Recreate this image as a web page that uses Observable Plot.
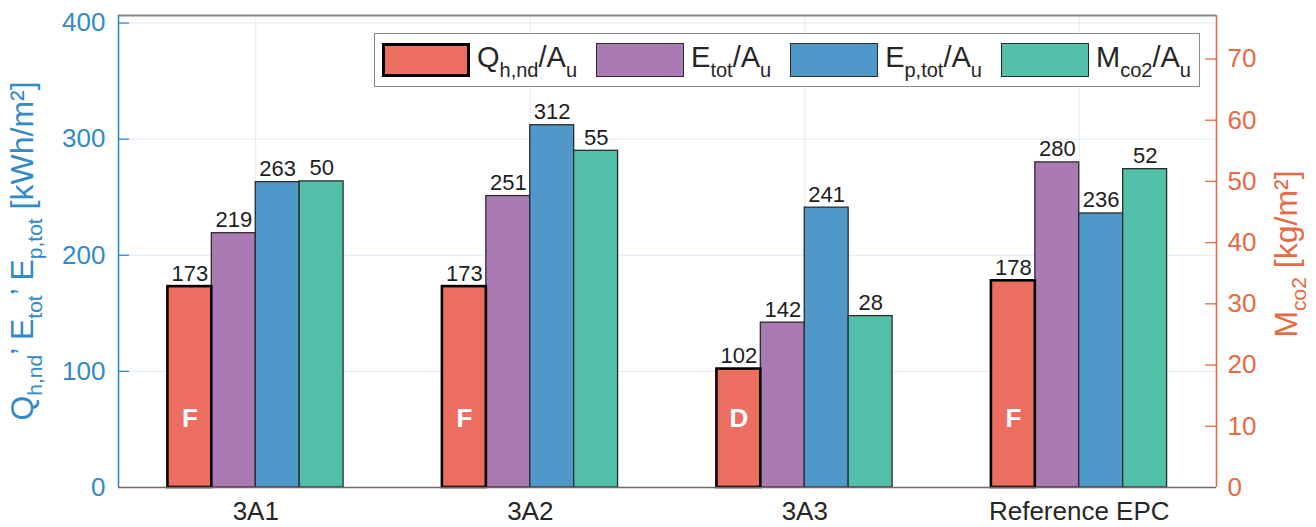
<!DOCTYPE html>
<html>
<head>
<meta charset="utf-8">
<script src="https://cdn.jsdelivr.net/npm/d3@7"></script>
<script src="https://cdn.jsdelivr.net/npm/@observablehq/plot@0.6"></script>
<style>
  html, body { margin: 0; padding: 0; background: #fff; }
  #chart { position: relative; width: 1316px; height: 527px; font-family: 'Liberation Sans', Arial, Helvetica, sans-serif; }
  #legend {
    position: absolute; left: 374px; top: 33px; width: 826px; height: 54px;
    box-sizing: border-box; border: 1.5px solid #8a8a8a; background: #fff;
    display: flex; align-items: center; padding-left: 7px;
  }
  .item { display: flex; align-items: center; margin-right: 19px; }
  .sw { display: inline-block; width: 88px; height: 34px; box-sizing: border-box; }
  .lab { margin-left: 7px; font-size: 29px; line-height: 29px; color: #262626; position: relative; top: -3px; white-space: nowrap; }
  .lab sub { font-size: 20px; vertical-align: baseline; position: relative; top: 10px; line-height: 0; }
</style>
</head>
<body>
<div id="chart"></div>
<script>
// Buildings / scenarios on the x axis
const categories = ["3A1", "3A2", "3A3", "Reference EPC"];

// Energy indicators [kWh/m²]
const qhnd = [173, 173, 102, 178];   // Q_h,nd / A_u
const etot = [219, 251, 142, 280];   // E_tot / A_u
const eptot = [263, 312, 241, 236];  // E_p,tot / A_u
// CO2 emissions [kg/m²], read on the right axis
const mco2 = [50, 55, 28, 52];       // M_co2 / A_u

// Energy class letters written inside the Q_h,nd bars
const grades = ["F", "F", "D", "F"];

// Series names (legend), as [text, subscript] runs
const seriesLabels = [
  [["Q", "h,nd"], ["/A", "u"]],
  [["E", "tot"], ["/A", "u"]],
  [["E", "p,tot"], ["/A", "u"]],
  [["M", "co2"], ["/A", "u"]]
];
const seriesColors = ["#EC6E60", "#AA7AB4", "#4F98C9", "#52C0A8"];

// Axis ticks
const leftTicks = [0, 100, 200, 300, 400];
const rightTicks = [0, 10, 20, 30, 40, 50, 60, 70];

// ---- layout & styling ----
const W = 1316, H = 527;
const mLeft = 118, mRight = 100, mTop = 15, mBottom = 40;
const frameW = W - mLeft - mRight;
const yLeftMax = 406.5, yRightMax = 77.1;
const k = yLeftMax / yRightMax;           // right-axis units -> left-axis units
const barW = 0.16;                          // bar width in category units
const blue = "#338AC9", orange = "#E86A42", ink = "#262626";

const values = [qhnd, etot, eptot, mco2];
const bars = [];
values.forEach((vals, si) => vals.forEach((v, gi) => {
  const x1 = gi + 1 + (si - 2) * barW;
  bars.push({si, category: categories[gi], value: v, x1, x2: x1 + barW, y: si === 3 ? v * k : v, fill: seriesColors[si]});
}));
const centers = categories.map((_, i) => i + 1);

const plot = Plot.plot({
  width: W, height: H,
  marginLeft: mLeft, marginRight: mRight, marginTop: mTop, marginBottom: mBottom,
  style: { fontFamily: "'Liberation Sans', Arial, Helvetica, sans-serif", background: "#fff", color: ink },
  x: { domain: [0.5, 4.5] },
  y: { domain: [0, yLeftMax] },
  color: { type: "identity" },
  marks: [
    // grid
    Plot.ruleY(leftTicks.filter(v => v > 0), { stroke: "#DFEAF5", strokeWidth: 1 }),
    Plot.ruleX(centers, { stroke: "#E6E9EC", strokeWidth: 1 }),
    // bars
    Plot.rectY(bars.filter(d => d.si !== 0), { x1: "x1", x2: "x2", y1: 0, y2: "y", fill: "fill", stroke: "#2b2b2b", strokeWidth: 1.3 }),
    Plot.rectY(bars.filter(d => d.si === 0), { x1: "x1", x2: "x2", y1: 0, y2: "y", fill: "fill", stroke: "#000", strokeWidth: 2.6 }),
    // value labels
    Plot.text(bars, { x: d => (d.x1 + d.x2) / 2, y: "y", text: d => String(d.value), dy: -6, lineAnchor: "bottom", fontSize: 22, fill: "#1e1e1e" }),
    // energy class letters
    Plot.text(grades, { x: (d, i) => i + 1 - 1.5 * barW, frameAnchor: "bottom", dy: -69, text: d => d, lineAnchor: "middle", fill: "#fff", fontWeight: "bold", fontSize: 26 }),
    // box
    Plot.ruleY([yLeftMax], { stroke: "#8a8a8a", strokeWidth: 2 }),
    Plot.ruleY([0], { stroke: "#766866", strokeWidth: 1.6 }),
    Plot.ruleX([0.5], { stroke: blue, strokeWidth: 1.6 }),
    Plot.ruleX([4.5], { stroke: orange, strokeWidth: 1.6 }),
    // inward tick marks
    Plot.ruleY(leftTicks.filter(v => v > 0), { stroke: blue, strokeWidth: 1.3, insetRight: frameW - 11 }),
    Plot.ruleY(rightTicks.filter(v => v > 0).map(v => v * k), { stroke: orange, strokeWidth: 1.3, insetLeft: frameW - 11 }),
    // axes
    Plot.axisY(leftTicks, { anchor: "left", tickSize: 0, tickPadding: 13, fontSize: 26, color: blue, label: null }),
    Plot.axisY(rightTicks.map(v => v * k), { anchor: "right", tickSize: 0, tickPadding: 11, fontSize: 26, color: orange, label: null, tickFormat: d => String(Math.round(d / k)) }),
    Plot.axisX(centers, { anchor: "bottom", tickSize: 0, tickPadding: 14, fontSize: 26, color: ink, label: null, tickFormat: d => categories[d - 1] })
  ]
});

document.getElementById("chart").appendChild(plot);

// Axis titles with subscripts
function richTitle(svg, x, y, segs, color, size, subSize, shift) {
  const t = svg.append("text")
    .attr("transform", `translate(${x},${y}) rotate(-90)`)
    .attr("text-anchor", "middle")
    .attr("fill", color)
    .attr("font-size", size)
    .attr("font-family", "'Liberation Sans', Arial, Helvetica, sans-serif");
  let low = false;
  segs.forEach(([txt, isSub]) => {
    const ts = t.append("tspan").text(txt);
    if (isSub && !low) { ts.attr("dy", shift).attr("font-size", subSize); low = true; }
    else if (isSub) { ts.attr("font-size", subSize); }
    else if (low) { ts.attr("dy", -shift); low = false; }
  });
}
const svg = d3.select(plot);
richTitle(svg, 33, 251, [["Q", 0], ["h,nd", 1], ["\u2019 E", 0], ["tot", 1], ["\u2019 E", 0], ["p,tot", 1], [" [kWh/m\u00B2]", 0]], blue, 32, 21, 9);
richTitle(svg, 1297, 254, [["M", 0], ["co2", 1], [" [kg/m\u00B2]", 0]], orange, 32, 21, 9);

// Legend inside the plot area
const legend = d3.select("#chart").append("div").attr("id", "legend");
seriesLabels.forEach((runs, si) => {
  const item = legend.append("div").attr("class", "item");
  item.append("span").attr("class", "sw")
    .style("background", seriesColors[si])
    .style("border", si === 0 ? "3px solid #000" : "1.3px solid #2b2b2b");
  const lab = item.append("span").attr("class", "lab");
  runs.forEach(([main, sub]) => {
    lab.append("span").text(main);
    lab.append("sub").text(sub);
  });
});
</script>
</body>
</html>
